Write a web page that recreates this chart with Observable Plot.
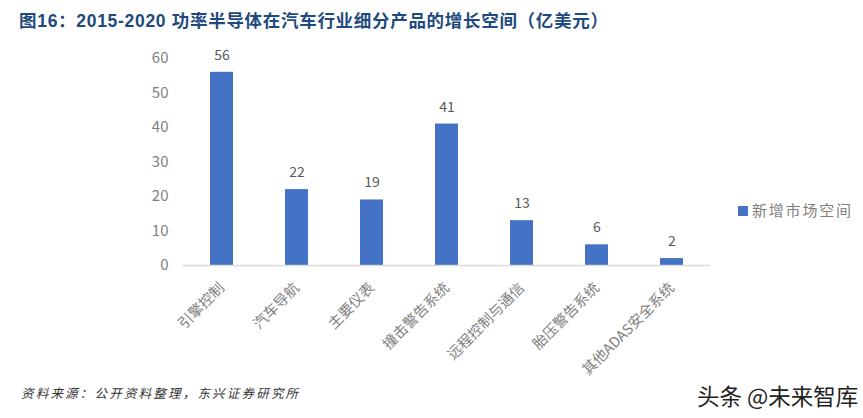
<!DOCTYPE html>
<html><head><meta charset="utf-8">
<script src="https://cdn.jsdelivr.net/npm/d3@7"></script>
<script src="https://cdn.jsdelivr.net/npm/@observablehq/plot@0.6"></script>
<style>
html,body{margin:0;padding:0;background:#fff;overflow:hidden}
#page{position:relative;width:863px;height:418px;font-family:"Noto Sans CJK SC","Noto Sans",sans-serif}
#title{position:absolute;left:19px;top:9px;font-family:"Liberation Sans","Noto Sans CJK SC",sans-serif;font-size:17.5px;font-weight:700;color:#1f4a7d;white-space:nowrap;line-height:24px;letter-spacing:.7px}
#chart{position:absolute;left:0;top:40px}
#legend{position:absolute;left:738px;top:200px;font-size:15px;color:#7f7f7f;white-space:nowrap;line-height:20px;letter-spacing:1.8px}
#legend i{display:inline-block;width:10px;height:10px;background:#4472c4;margin-right:4px}
#source{position:absolute;left:21px;top:384px;font-size:12.5px;font-style:italic;color:#333;white-space:nowrap;line-height:18px;letter-spacing:2.2px}
#mark{position:absolute;left:697px;top:381px;font-size:22.5px;color:#222;white-space:nowrap;line-height:28px}
</style></head><body>
<div id="page">
<div id="title"></div>
<div id="chart"></div>
<div id="legend"></div>
<div id="source"></div>
<div id="mark"></div>
</div>
<script>
const titleText = "图16：2015-2020 功率半导体在汽车行业细分产品的增长空间（亿美元）";
const seriesName = "新增市场空间";
const sourceText = "资料来源：公开资料整理，东兴证券研究所";
const markText = "头条 @未来智库";
const categories = ["引擎控制","汽车导航","主要仪表","撞击警告系统","远程控制与通信","胎压警告系统","其他ADAS安全系统"];
const values = [56,22,19,41,13,6,2];
const yTicks = [0,10,20,30,40,50,60];

const rows = categories.map((c,i)=>({c,v:values[i]}));
document.getElementById("title").textContent = titleText;
document.getElementById("source").textContent = sourceText;
document.getElementById("mark").textContent = markText;
document.getElementById("legend").innerHTML = "<i></i>" + seriesName;

const font = '"Noto Sans CJK SC","Noto Sans",sans-serif';
const plot = Plot.plot({
  width: 863, height: 340,
  marginTop: 18, marginBottom: 115, marginLeft: 183, marginRight: 153,
  style: {fontFamily: font, background: "transparent"},
  x: {domain: categories, paddingInner: 0.69, paddingOuter: 0.345, label: null},
  y: {domain: [0,60], label: null},
  marks: [
    Plot.barY(rows, {x:"c", y:"v", fill:"#4472c4"}),
    Plot.ruleY([0], {stroke:"#d9d9d9", strokeWidth:1.5}),
    Plot.text(rows, {x:"c", y:"v", text:d=>String(d.v), dy:-17, fontSize:14, fill:"#595959"}),
    Plot.axisY({ticks:yTicks, tickSize:0, tickPadding:15, fontSize:15, color:"#7f7f7f", label:null, tickFormat:d=>String(d)}),
    Plot.axisX({tickSize:0, tickRotate:-45, tickPadding:20, fontSize:14.5, color:"#7f7f7f", label:null})
  ]
});
document.getElementById("chart").appendChild(plot);
</script>
</body></html>
